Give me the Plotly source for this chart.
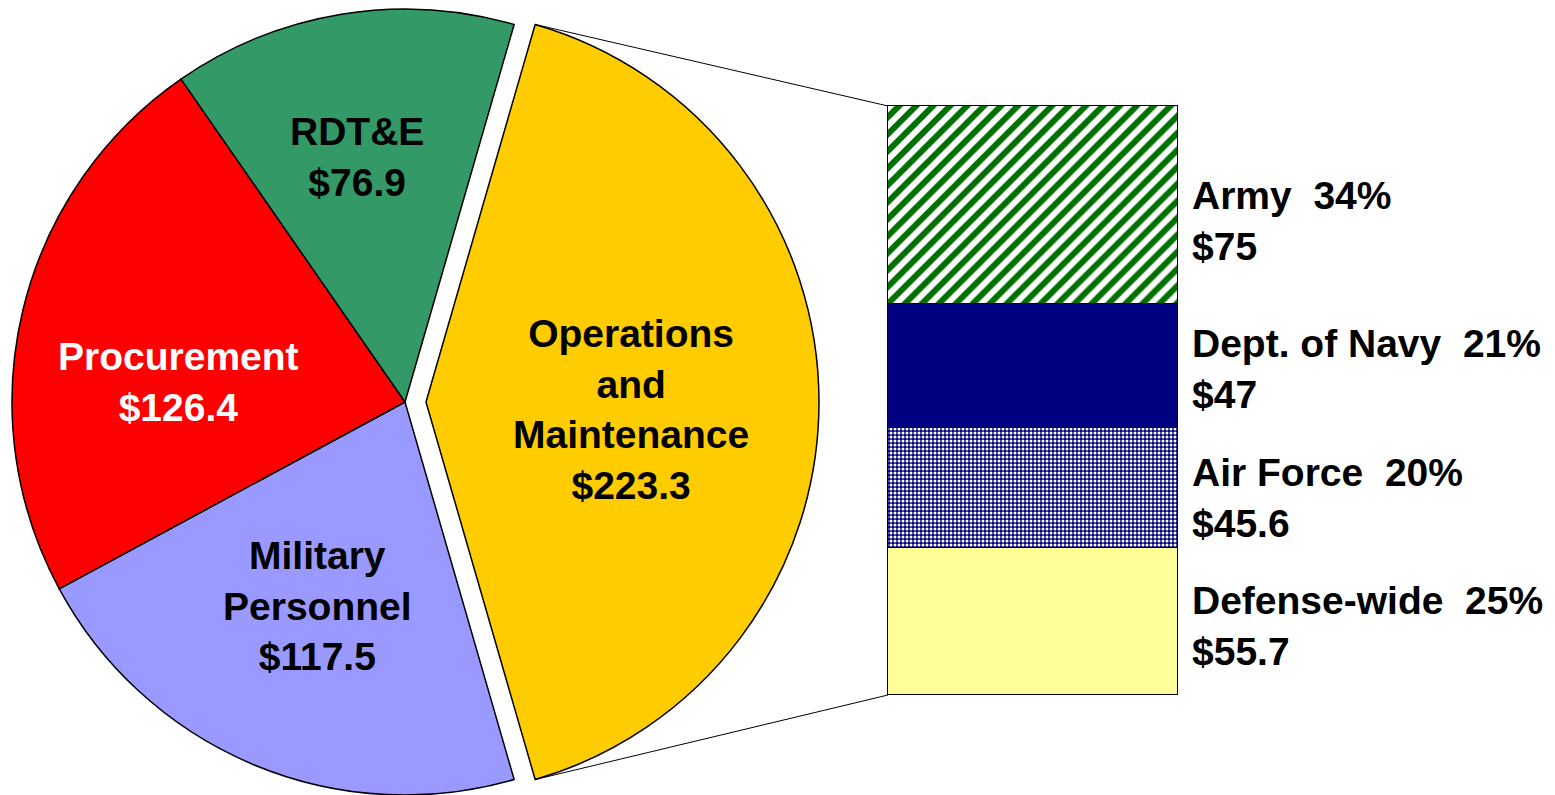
import math
import plotly.graph_objects as go

# pie data ($ billions)
pie_labels = ["Operations<br>and<br>Maintenance", "Military<br>Personnel", "Procurement", "RDT&E"]
pie_values = [223.3, 117.5, 126.4, 76.9]
pie_colors = ["#FFCC00", "#9999FF", "#FF0000", "#339966"]

# breakdown of O&M
bar_labels = ["Defense-wide", "Air Force", "Dept. of Navy", "Army"]
bar_values = [55.7, 45.6, 47, 75]

W, H = 1555, 795
cx, cy, r = 405, 402, 393
pull_px = 21

total = sum(pie_values)
om_frac = pie_values[0] / total
rot = 90 - om_frac * 180   # centre O&M at 3 o'clock

def px(x):
    return x / W

def py(y):
    return 1 - y / H

fig = go.Figure()

# main pie without O&M
fig.add_trace(go.Pie(
    values=pie_values, labels=pie_labels, sort=False, direction="clockwise",
    rotation=rot, textinfo="none", hoverinfo="label+value",
    marker=dict(colors=["rgba(0,0,0,0)"] + pie_colors[1:],
                line=dict(color="black", width=[0, 1.5, 1.5, 1.5])),
    domain=dict(x=[px(cx - r), px(cx + r)], y=[py(cy + r), py(cy - r)]),
    showlegend=False,
))
# pulled-out O&M slice
fig.add_trace(go.Pie(
    values=pie_values, labels=pie_labels, sort=False, direction="clockwise",
    rotation=rot, textinfo="none", hoverinfo="label+value",
    marker=dict(colors=[pie_colors[0]] + ["rgba(0,0,0,0)"] * 3,
                line=dict(color="black", width=[1.5, 0, 0, 0])),
    domain=dict(x=[px(cx + pull_px - r), px(cx + pull_px + r)], y=[py(cy + r), py(cy - r)]),
    showlegend=False,
))

patterns = [
    dict(color="#FFFF99"),
    dict(color="#000080", pattern=dict(shape=".", fgcolor="white", bgcolor="#000080",
                                        size=4, solidity=0.45, fgopacity=1)),
    dict(color="#000080"),
    dict(color="#008000", pattern=dict(shape="/", fgcolor="#007000", bgcolor="white",
                                        size=12, solidity=0.5, fgopacity=1)),
]
for lab, val, mk in zip(bar_labels, bar_values, patterns):
    fig.add_trace(go.Bar(
        x=[0], y=[val], name=lab, width=1,
        marker=dict(line=dict(color="black", width=1.5), **mk),
        showlegend=False,
    ))

# bar box in pixels, with a little padding so the outline is not clipped
bx0, bx1, by0, by1 = 888, 1178, 695, 106
pad = 3
om_total = sum(bar_values)
ux = pad / (bx1 - bx0)
uy = pad * om_total / (by0 - by1)
fig.update_layout(
    width=W, height=H, margin=dict(l=0, r=0, t=0, b=0),
    paper_bgcolor="white", plot_bgcolor="white",
    barmode="stack", bargap=0,
    xaxis=dict(domain=[px(bx0 - pad), px(bx1 + pad)], range=[-0.5 - ux, 0.5 + ux], visible=False),
    yaxis=dict(domain=[py(by0 + pad), py(by1 - pad)], range=[-uy, om_total + uy], visible=False),
)

# connector lines from the O&M slice to the bar
a0 = math.radians(rot)
a1 = math.radians(rot + om_frac * 360)
for ang, ybar in [(a0, by1), (a1, by0)]:
    sx = cx + pull_px + r * math.sin(ang)
    sy = cy - r * math.cos(ang)
    fig.add_shape(type="line", xref="paper", yref="paper",
                  x0=px(sx), y0=py(sy), x1=px(bx0), y1=py(ybar),
                  line=dict(color="black", width=1))

font = dict(family="Arial, Liberation Sans", size=39, color="black", weight="bold")

# pie labels
pie_pos = [(631, 409), (317, 606), (178, 382), (357, 157)]
for lab, val, (x, y), col in zip(pie_labels, pie_values, pie_pos,
                                 ["black", "black", "white", "black"]):
    fig.add_annotation(text=f"{lab}<br>${val}", x=px(x), y=py(y), xref="paper", yref="paper",
                       xanchor="center", yanchor="middle",
                       showarrow=False, align="center", font=dict(font, color=col))

# bar labels
bar_pos = [626, 498, 369, 221]
for lab, val, y in zip(bar_labels, bar_values, bar_pos):
    pct = round(val / om_total * 100)
    fig.add_annotation(text=f"{lab}\u00a0 {pct}%<br>${val:g}", x=px(1190), y=py(y),
                       xref="paper", yref="paper", xanchor="left", yanchor="middle",
                       showarrow=False, align="left", font=font)

fig.write_html("out.html", config={"displayModeBar": False},
               post_script="document.body.style.margin='0';")
